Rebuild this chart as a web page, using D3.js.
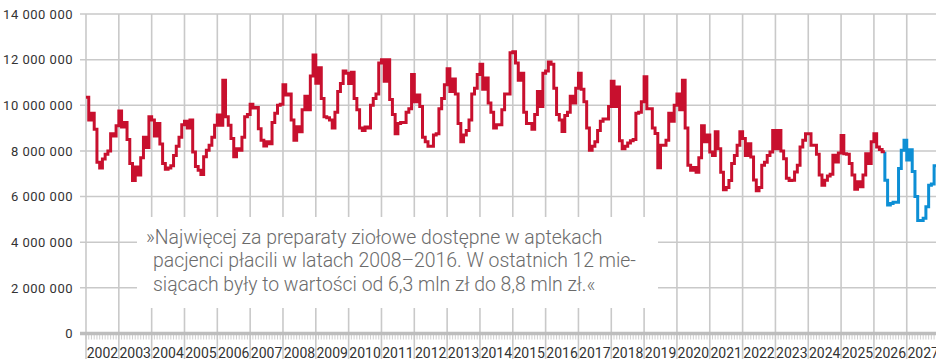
<!DOCTYPE html>
<html>
<head>
<meta charset="utf-8">
<script src="https://cdn.jsdelivr.net/npm/d3@7/dist/d3.min.js"></script>
<style>
  html, body { margin: 0; padding: 0; background: #fff; }
  svg { display: block; }
</style>
</head>
<body>
<svg id="chart" width="936" height="359"></svg>
<script>
// Year labels along the bottom axis (one interval per year)
const yearLabels = ["2002","2003","2004","2005","2006","2007","2008","2009","2010","2011","2012","2013",
  "2014","2015","2016","2017","2018","2019","2020","2021","2022","2023","2024","2025","2026","2027"];

// Value axis ticks (zł)
const yTicks = [0, 2000000, 4000000, 6000000, 8000000, 10000000, 12000000, 14000000];

// Monthly sales, million zł, starting January 2002
const actual = [
  10.35, 9.35, 9.65, 8.95, 7.5, 7.25, 7.65, 7.85, 8.0, 8.75, 8.65, 9.1,
  9.75, 9.05, 9.25, 8.5, 7.45, 6.7, 7.3, 6.95, 7.7, 8.6, 8.15, 9.5,
  9.35, 8.65, 9.2, 8.3, 7.45, 7.2, 7.25, 7.35, 7.8, 8.2, 8.6, 9.15,
  9.3, 9.0, 9.35, 7.95, 7.32, 7.15, 6.97, 7.74, 8.03, 8.25, 8.6, 9.13,
  9.57, 9.13, 11.1, 9.5, 9.13, 8.54, 7.74, 8.1, 8.03, 8.6, 9.5, 9.6,
  10.05, 9.88, 9.9, 8.97, 8.47, 8.22, 8.4, 8.32, 9.25, 9.65, 10.0, 10.05,
  10.9, 10.45, 10.5, 9.35, 8.47, 9.06, 8.84, 9.8, 10.4, 9.8, 11.28, 12.2,
  10.97, 11.65, 10.3, 9.5, 9.45, 9.35, 9.0, 9.7, 10.6, 10.95, 11.5, 11.4,
  10.95, 11.45, 10.3, 9.8, 9.0, 8.9, 9.05, 9.0, 10.0, 10.3, 10.5, 11.85,
  12.0, 11.05, 12.0, 10.25, 9.6, 8.75, 9.2, 9.25, 9.25, 9.7, 9.85, 11.35,
  10.15, 10.45, 9.95, 8.6, 8.4, 8.2, 8.2, 8.7, 8.75, 9.85, 10.3, 10.9,
  11.6, 10.6, 11.15, 10.5, 9.2, 8.4, 8.7, 8.9, 9.35, 10.5, 10.75, 11.35,
  11.8, 10.7, 11.2, 10.1, 9.7, 9.0, 9.15, 9.15, 9.8, 10.5, 10.5, 12.3,
  12.35, 11.85, 11.1, 11.4, 9.7, 9.2, 9.2, 8.95, 9.6, 10.6, 9.95, 11.4,
  11.5, 11.9, 11.8, 10.75, 9.6, 9.35, 8.85, 9.55, 9.7, 10.4, 10.1, 10.75,
  11.4, 10.7, 10.15, 9.0, 8.03, 8.2, 8.4, 8.9, 9.3, 9.4, 9.4, 9.95,
  11.05, 9.95, 10.8, 8.45, 8.1, 8.2, 8.35, 8.45, 8.5, 9.65, 9.7, 10.15,
  11.25, 9.85, 9.85, 9.0, 8.76, 7.26, 8.25, 8.25, 8.47, 9.65, 9.3, 10.0,
  10.5, 9.8, 11.1, 9.0, 7.37, 7.15, 7.27, 7.07, 7.7, 9.1, 8.4, 8.7,
  7.95, 7.8, 8.84, 8.1, 7.07, 6.3, 6.4, 6.7, 7.45, 7.8, 8.25, 8.84,
  8.55, 7.8, 8.32, 7.73, 6.73, 6.26, 6.4, 7.37, 7.5, 7.8, 7.95, 8.9,
  8.1, 8.9, 8.0, 7.66, 6.8, 6.7, 6.72, 7.08, 7.37, 8.17, 8.47, 8.75,
  8.75, 8.25, 8.25, 7.85, 6.94, 6.5, 6.72, 6.9, 6.98, 7.81, 7.52, 7.91,
  8.68, 7.88, 7.85, 7.45, 6.94, 6.32, 6.65, 6.43, 6.94, 7.88, 7.45, 8.4,
  8.75, 8.17, 8.06, 7.96
];

// Forecast months, million zł, continuing right after the last actual month
const forecast = [
  6.72, 5.63, 5.7, 5.75, 5.75, 7.23, 8.03, 8.47, 7.6, 8.05, 7.1, 6.0,
  4.95, 4.95, 5.05, 5.55, 6.5, 6.55, 7.35, 7.35
];

const quoteLines = [
  "»Najwięcej za preparaty ziołowe dostępne w aptekach",
  "pacjenci płacili w latach 2008–2016. W ostatnich 12 mie-",
  "siącach były to wartości od 6,3 mln zł do 8,8 mln zł.«"
];

const W = 936, H = 359;
const plotLeft = 86, plotTop = 14, plotBottom = 333.5;
const yearWidth = 32.83;
const nMonths = yearLabels.length * 12;

const x = d3.scaleLinear().domain([0, nMonths]).range([plotLeft, plotLeft + yearLabels.length * yearWidth]);
const y = d3.scaleLinear().domain([0, 14000000]).range([plotBottom, plotTop]);

const svg = d3.select("#chart");
const gridColor = "#c9c9c9";
const fontFam = "Roboto, 'Noto Sans', sans-serif";

// horizontal grid lines with left tick stubs
svg.append("g").selectAll("line").data(yTicks.filter(d => d > 0)).join("line")
  .attr("x1", plotLeft - 6).attr("x2", W)
  .attr("y1", d => y(d)).attr("y2", d => y(d))
  .attr("stroke", gridColor).attr("stroke-width", 1.5);

// vertical year grid lines, running down through the label band
const yearStarts = d3.range(0, yearLabels.length + 1).map(i => i * 12);
svg.append("g").selectAll("line").data(yearStarts).join("line")
  .attr("x1", d => x(d)).attr("x2", d => x(d))
  .attr("y1", plotTop).attr("y2", H)
  .attr("stroke", gridColor).attr("stroke-width", 1.6);

// monthly minor ticks under the baseline
svg.append("g").selectAll("line").data(d3.range(0, nMonths)).join("line")
  .attr("x1", d => x(d)).attr("x2", d => x(d))
  .attr("y1", plotBottom).attr("y2", plotBottom + 6)
  .attr("stroke", "#c4c4c4").attr("stroke-width", 0.8);

// zero baseline
svg.append("line")
  .attr("x1", plotLeft - 6).attr("x2", W)
  .attr("y1", y(0)).attr("y2", y(0))
  .attr("stroke", "#bdbdbd").attr("stroke-width", 3.5);

// y axis labels
const fmt = v => d3.format(",")(v).replace(/,/g, " ");
svg.append("g").selectAll("text").data(yTicks).join("text")
  .attr("x", 73).attr("y", d => y(d)).attr("dy", "0.36em")
  .attr("text-anchor", "end")
  .attr("font-family", fontFam).attr("font-size", 13).attr("letter-spacing", 0.5)
  .attr("fill", "#333")
  .text(fmt);

// year labels centred in each year's interval
svg.append("g").selectAll("text").data(yearLabels).join("text")
  .attr("x", (d, i) => x(i * 12 + 6)).attr("y", 357.5)
  .attr("text-anchor", "middle")
  .attr("font-family", fontFam).attr("font-size", 14).attr("fill", "#333")
  .text(d => d);

// quote panel
svg.append("rect")
  .attr("x", 137).attr("y", 217).attr("width", 521).attr("height", 91)
  .attr("fill", "#fff");
const quote = svg.append("text")
  .attr("font-family", fontFam).attr("font-size", 19.4).attr("font-weight", 300)
  .attr("fill", "#6b6b6b");
quote.selectAll("tspan").data(quoteLines).join("tspan")
  .attr("x", (d, i) => i === 0 ? 146 : 153)
  .attr("y", (d, i) => 243.5 + i * 23.5)
  .text(d => d);

// step lines
const lineGen = d3.line()
  .x(d => x(d.m)).y(d => y(d.v * 1e6))
  .curve(d3.curveStepAfter);

const actualPts = actual.map((v, i) => ({ m: i, v }));
actualPts.push({ m: actual.length, v: actual[actual.length - 1] });

const start = actual.length;
const forecastPts = [{ m: start, v: actual[actual.length - 1] }]
  .concat(forecast.map((v, i) => ({ m: start + i, v })));
forecastPts.push({ m: start + forecast.length, v: forecast[forecast.length - 1] });

svg.append("path").datum(forecastPts)
  .attr("fill", "none").attr("stroke", "#0d8fd5").attr("stroke-width", 3)
  .attr("stroke-linejoin", "miter").attr("d", lineGen);

svg.append("path").datum(actualPts)
  .attr("fill", "none").attr("stroke", "#c8102e").attr("stroke-width", 3)
  .attr("stroke-linejoin", "miter").attr("d", lineGen);
</script>
</body>
</html>
